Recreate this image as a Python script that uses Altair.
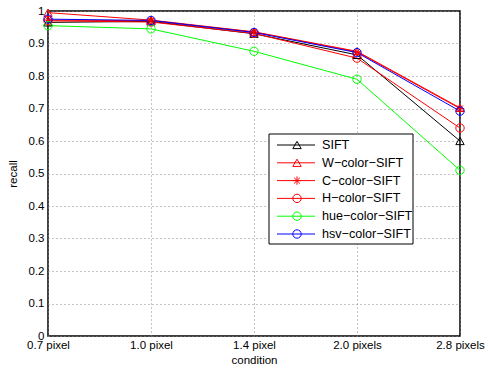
import altair as alt
import pandas as pd

# Recall of each descriptor across blur conditions
conditions = ["0.7 pixel", "1.0 pixel", "1.4 pixel", "2.0 pixels", "2.8 pixels"]
series = ["SIFT", "W\u2212color\u2212SIFT", "C\u2212color\u2212SIFT",
          "H\u2212color\u2212SIFT", "hue\u2212color\u2212SIFT", "hsv\u2212color\u2212SIFT"]
sift = [0.965, 0.968, 0.930, 0.865, 0.600]
w_color = [0.995, 0.972, 0.936, 0.876, 0.702]
c_color = [0.972, 0.970, 0.935, 0.874, 0.700]
h_color = [0.970, 0.966, 0.931, 0.855, 0.640]
hue_color = [0.955, 0.945, 0.876, 0.790, 0.510]
hsv_color = [0.975, 0.971, 0.934, 0.872, 0.692]
values = [sift, w_color, c_color, h_color, hue_color, hsv_color]

colors = ["#000000", "#ff0000", "#ff0000", "#ff0000", "#00ff00", "#0000ff"]
asterisk = "M0,-1L0,1M-1,0L1,0M-0.7,-0.7L0.7,0.7M-0.7,0.7L0.7,-0.7"
shapes = ["triangle-up", "triangle-up", asterisk, "circle", "circle", "circle"]

rows = []
for si, (name, vals) in enumerate(zip(series, values)):
    for c, v in zip(conditions, vals):
        rows.append({"series": name, "order": si, "condition": c, "recall": v})
df = pd.DataFrame(rows)
legend_df = pd.DataFrame({"series": series, "rank": list(range(len(series)))})

FONT = "Liberation Sans"
color_scale = alt.Scale(domain=series, range=colors)
shape_scale = alt.Scale(domain=series, range=shapes)

x_enc = alt.X("condition:O", sort=conditions, scale=alt.Scale(type="point", padding=0),
              axis=alt.Axis(title="condition", labelAngle=0, ticks=False, domain=False,
                            grid=True, gridDash=[1, 3], gridColor="#888888",
                            labelPadding=3, titlePadding=4))
y_enc = alt.Y("recall:Q", scale=alt.Scale(domain=[0, 1], nice=False),
              axis=alt.Axis(title="recall", values=[i / 10 for i in range(11)],
                            format=".1~f", ticks=False, domain=False, grid=True,
                            gridDash=[1, 3], gridColor="#888888",
                            labelPadding=4, titlePadding=10))

base = alt.Chart(df)
lines = base.mark_line(strokeWidth=1).encode(
    x=x_enc, y=y_enc,
    color=alt.Color("series:N", scale=color_scale, legend=None),
    detail="series:N",
    order="order:Q",
)
points = base.mark_point(filled=False, size=70, strokeWidth=1, opacity=1).encode(
    x=x_enc, y=y_enc,
    color=alt.Color("series:N", scale=color_scale, legend=None),
    shape=alt.Shape("series:N", scale=shape_scale, legend=None),
    order="order:Q",
)

# Legend box inside the plot area
box = alt.Chart(pd.DataFrame({"k": [0]})).mark_rect(
    fill="white", stroke="black", strokeWidth=1
).encode(x=alt.value(221), x2=alt.value(365), y=alt.value(123), y2=alt.value(233))

leg = alt.Chart(legend_df).transform_calculate(ly="134 + 17.8 * datum.rank")
leg_lines = leg.mark_rule(strokeWidth=1).encode(
    x=alt.value(229), x2=alt.value(267), y=alt.Y("ly:Q", scale=None),
    color=alt.Color("series:N", scale=color_scale, legend=None),
)
leg_pts = leg.mark_point(filled=False, size=70, strokeWidth=1, opacity=1).encode(
    x=alt.value(249), y=alt.Y("ly:Q", scale=None),
    color=alt.Color("series:N", scale=color_scale, legend=None),
    shape=alt.Shape("series:N", scale=shape_scale, legend=None),
)
leg_text = leg.mark_text(align="left", baseline="middle", font=FONT, fontSize=12.6,
                         color="black").encode(
    x=alt.value(274), y=alt.Y("ly:Q", scale=None), text="series:N",
)

chart = alt.layer(lines, points, box, leg_lines, leg_pts, leg_text).properties(
    width=412, height=325,
    autosize=alt.AutoSizeParams(type="none"),
    padding={"left": 48, "top": 11, "right": 28, "bottom": 36},
    background="white",
).configure_view(stroke="black", strokeWidth=1.5).configure_axis(
    labelFont=FONT, titleFont=FONT, labelFontSize=11.5, titleFontSize=11.5,
    labelColor="black", titleColor="black", titleFontWeight="normal",
)

chart.save("out.html", embed_options={"renderer": "svg", "actions": False})
